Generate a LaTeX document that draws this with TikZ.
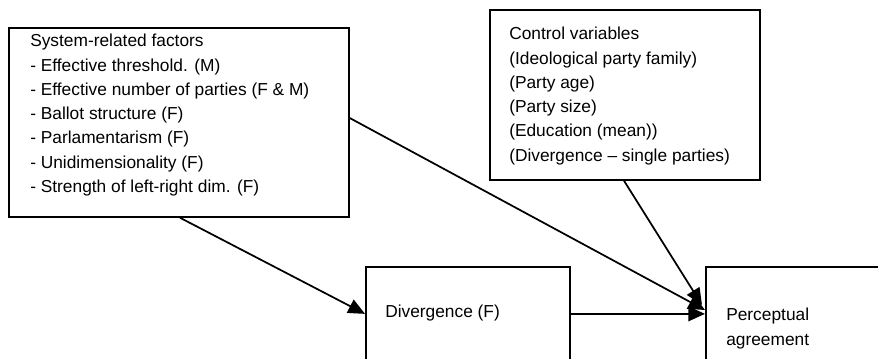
\documentclass[tikz,border=0pt]{standalone}
\usepackage{fontspec}
\setmainfont{Liberation Sans}
\usetikzlibrary{arrows.meta,calc}
\begin{document}
\begin{tikzpicture}[x=0.75pt,y=-0.75pt,
  box/.style={draw=black,line width=1.3pt,inner sep=0pt,anchor=north west},
  txt/.style={inner sep=0pt,align=left,font=\fontsize{13}{18.2}\selectfont},
  conn/.style={line width=1.3pt,-{Triangle[length=12.5pt,width=11pt]}}]
\clip (0,0) rectangle (878,358);
% boxes
\node[box,minimum width=255pt,minimum height=141.75pt] (sys) at (8,27) {};
\node[box,minimum width=202.5pt,minimum height=127.5pt] (ctl) at (489,9) {};
\node[box,minimum width=153pt,minimum height=70.5pt] (div) at (365,266) {};
\node[box,minimum width=221.25pt,minimum height=72pt] (per) at (705,266) {};
% texts
\node[txt,anchor=north west] (systxt) at (30,34) {System-related factors\\- Effective threshold. (M)\\- Effective number of parties (F \& M)\\- Ballot structure (F)\\- Parlamentarism (F)\\- Unidimensionality (F)\\- Strength of left-right dim. (F)};
\node[txt,anchor=north west] (ctltxt) at (509,27) {Control variables\\(Ideological party family)\\(Party age)\\(Party size)\\(Education (mean))\\(Divergence – single parties)};
\node[txt,anchor=west] (divtxt) at (385,313) {Divergence (F)};
\node[txt,anchor=north west] (pertxt) at (726,308) {Perceptual\\agreement};
% connectors
\coordinate (t2) at ($(per.north west)+(0,44)$);
\coordinate (t3) at ($(per.north west)+(-3,39)$);
\draw[conn] ($(sys.south west)+(172,0)$) -- (div.west);
\draw[conn] ($(sys.north east)+(0,91)$) -- (t2);
\draw[conn] ($(ctl.south west)+(135,0)$) -- (t3);
\draw[conn] (div.east) -- (div.east -| per.west);
\end{tikzpicture}
\end{document}
